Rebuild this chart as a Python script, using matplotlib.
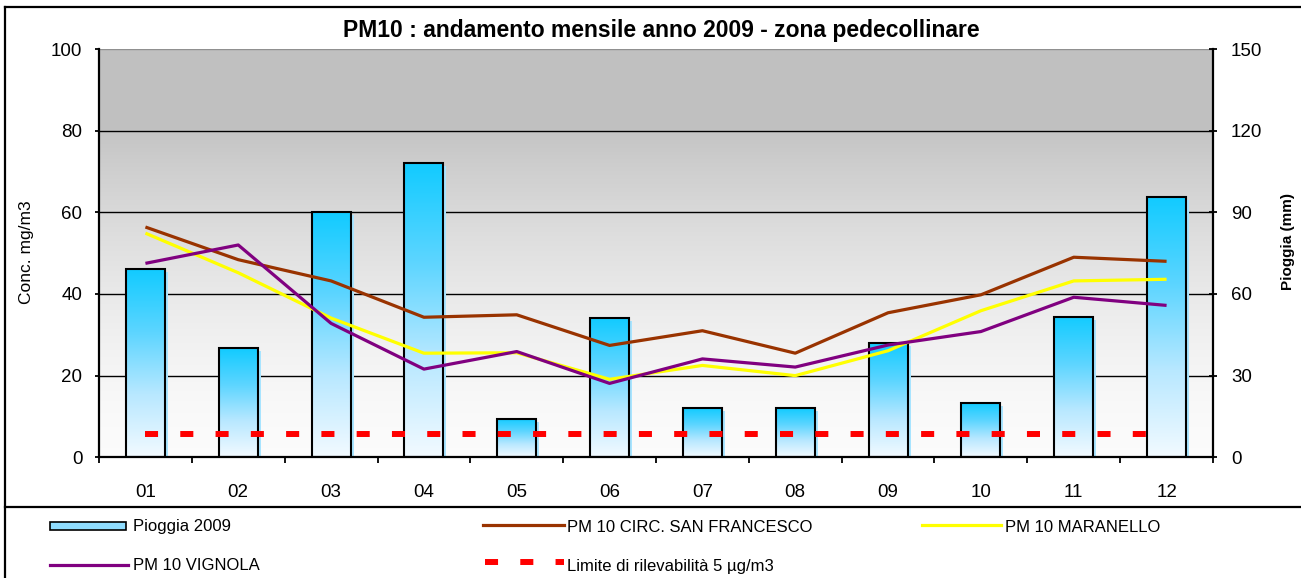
import numpy as np
import matplotlib
matplotlib.use("Agg")
import matplotlib.pyplot as plt
from matplotlib.colors import LinearSegmentedColormap
from matplotlib.patches import Rectangle
from matplotlib.lines import Line2D
import matplotlib.transforms as mtransforms

plt.rcParams['font.family'] = ['Liberation Sans', 'DejaVu Sans']
plt.rcParams['lines.scale_dashes'] = False

# ---------------- data ----------------
months = ["01", "02", "03", "04", "05", "06", "07", "08", "09", "10", "11", "12"]
pioggia = [69, 40, 90, 108, 14, 51, 18, 18, 42, 20, 51.5, 95.5]          # mm (right axis)
san_francesco = [56.4, 48.4, 43.2, 34.3, 34.9, 27.4, 31.0, 25.5, 35.4, 39.8, 49.0, 48.0]
maranello = [54.9, 45.2, 34.1, 25.5, 25.6, 19.1, 22.5, 20.0, 26.1, 35.9, 43.2, 43.6]
vignola = [47.5, 52.0, 32.8, 21.6, 25.9, 18.1, 24.1, 22.1, 27.5, 30.8, 39.2, 37.2]
limite = [5.7] * 12

left_ticks = [0, 20, 40, 60, 80, 100]
right_ticks = [0, 30, 60, 90, 120, 150]

title = "PM10 : andamento mensile anno 2009 - zona pedecollinare"
lab_pioggia = "Pioggia 2009"
lab_sf = "PM 10 CIRC. SAN FRANCESCO"
lab_mar = "PM 10 MARANELLO"
lab_vig = "PM 10 VIGNOLA"
lab_lim = "Limite di rilevabilità 5 µg/m3"

W, H = 1301, 578
fig = plt.figure(figsize=(W / 100, H / 100), dpi=100)
fig.patch.set_facecolor('white')

def fx(px):
    return px / W

def fy(py):
    return 1 - py / H

L, R, T, B = 99, 1213, 49, 457.3
ax = fig.add_axes([fx(L), fy(B), fx(R) - fx(L), fy(T) - fy(B)])
ax2 = ax.twinx()
ax.set_zorder(2)
ax2.set_zorder(1)
ax.patch.set_visible(False)

x = np.arange(len(months))

# ---------- background gradient (on ax2) ----------
ny = 400
v = np.linspace(0, 100, ny)  # left-axis units
g = np.where(v >= 80, 0.755, 0.985 - 0.215 * (np.clip(v, 0, 80) / 80) ** 1.6)
bg = np.repeat(g.reshape(-1, 1, 1), 3, axis=2)
ax2.imshow(bg, extent=[-0.5, 11.5, 0, 150], origin='lower', aspect='auto',
           zorder=0, interpolation='bilinear')

# gridlines (behind bars)
for t in right_ticks[1:-1]:
    ax2.axhline(t, color='black', lw=1.0, zorder=0.5)
ax2.axhline(150, color='#909090', lw=1.0, zorder=0.5)

# ---------- bars ----------
bw = 0.42
cmap = LinearSegmentedColormap.from_list(
    'bar', ['#F2FAFF', '#B8E8FF', '#5CD5FF', '#12CBFF'])
shadow = ax2.bar(x, pioggia, width=bw, color='#A8E4FF', zorder=1.5, linewidth=0)
off = mtransforms.ScaledTranslation(3 / 100, -3 / 100, fig.dpi_scale_trans)
for p in shadow:
    p.set_transform(ax2.transData + off)
bars = ax2.bar(x, pioggia, width=bw, facecolor='none', edgecolor='black',
               linewidth=1.5, zorder=3)
grad = np.linspace(0, 1, 256).reshape(-1, 1)
for p in bars:
    x0 = p.get_x()
    h = p.get_height()
    im = ax2.imshow(grad, extent=[x0, x0 + p.get_width(), 0, h], origin='lower',
                    cmap=cmap, aspect='auto', zorder=2, interpolation='bilinear')
    im.set_clip_path(p)

ax2.set_ylim(0, 150)
ax2.set_xlim(-0.5, 11.5)

# ---------- lines ----------
ax.plot(x, san_francesco, color='#993300', lw=2.3, zorder=4, solid_capstyle='butt')
ax.plot(x, maranello, color='#FFFF00', lw=2.3, zorder=4, solid_capstyle='butt')
ax.plot(x, vignola, color='#800080', lw=2.3, zorder=5, solid_capstyle='butt')
ax.plot(x, limite, color='#FF0000', lw=4.3, dashes=(9.4, 16.0),
        dash_capstyle='butt', zorder=4)

ax.set_ylim(0, 100)
ax.set_xlim(-0.5, 11.5)

# ---------- axes styling ----------
for s in ['top', 'right']:
    ax.spines[s].set_visible(False)
for s in ['top', 'left', 'bottom']:
    ax2.spines[s].set_visible(False)
ax.spines['left'].set_linewidth(1.6)
ax.spines['bottom'].set_linewidth(1.6)
ax2.spines['right'].set_linewidth(1.6)

ax.set_yticks(left_ticks)
ax.set_yticklabels([str(t) for t in left_ticks])
ax.tick_params(axis='y', direction='out', length=3, width=1.3, pad=9, labelsize=13.5)
ax2.set_yticks(right_ticks)
ax2.set_yticklabels([str(t) for t in right_ticks])
ax2.tick_params(axis='y', direction='inout', length=6, width=1.3, pad=10, labelsize=13.5)

ax.set_xticks(x)
ax.set_xticklabels(months)
ax.set_xticks(np.arange(-0.5, 12, 1), minor=True)
ax.tick_params(axis='x', which='major', length=0, pad=19, labelsize=13.5)
ax.tick_params(axis='x', which='minor', direction='out', length=4, width=1.3)

# axis labels
fig.text(fx(27), fy(252), "Conc. mg/m3", rotation=90, ha='center', va='center',
         fontsize=12.5)
fig.text(fx(1288), fy(242), "Pioggia (mm)", rotation=90, ha='center', va='center',
         fontsize=11, fontweight='bold')

# title
fig.text(fx(661.5), fy(30), title, ha='center', va='center', fontsize=16.5,
         fontweight='bold')

# ---------- frame ----------
fr = dict(color='black', lw=1.6, transform=fig.transFigure)
fig.add_artist(Line2D([fx(5), 1], [fy(7), fy(7)], **fr))
fig.add_artist(Line2D([fx(5), fx(5)], [fy(7), 0], **fr))
fig.add_artist(Line2D([fx(5), 1], [fy(507), fy(507)], **fr))

# ---------- legend (manual) ----------
fs_leg = 12
fig.add_artist(Rectangle((fx(50), fy(530)), fx(126) - fx(50), fy(522) - fy(530),
                         transform=fig.transFigure, facecolor='#8FDDFF',
                         edgecolor='black', lw=1.2))
fig.text(fx(133), fy(527), lab_pioggia, ha='left', va='center', fontsize=fs_leg)

fig.add_artist(Line2D([fx(483), fx(564)], [fy(525), fy(525)], color='#993300',
                      lw=2.3, transform=fig.transFigure))
fig.text(fx(567), fy(527), lab_sf, ha='left', va='center', fontsize=fs_leg)

fig.add_artist(Line2D([fx(922), fx(1001)], [fy(525), fy(525)], color='#FFFF00',
                      lw=2.3, transform=fig.transFigure))
fig.text(fx(1005), fy(527), lab_mar, ha='left', va='center', fontsize=fs_leg)

fig.add_artist(Line2D([fx(50), fx(128)], [fy(565), fy(565)], color='#800080',
                      lw=2.3, transform=fig.transFigure))
fig.text(fx(133), fy(566), lab_vig, ha='left', va='center', fontsize=fs_leg)

fig.add_artist(Line2D([fx(485), fx(564)], [fy(562), fy(562)], color='#FF0000',
                      lw=4.3, dashes=(9.4, 16.0), dash_capstyle='butt',
                      transform=fig.transFigure))
fig.text(fx(567), fy(566), lab_lim, ha='left', va='center', fontsize=fs_leg)

fig.savefig('out.png', dpi=100, facecolor='white')
